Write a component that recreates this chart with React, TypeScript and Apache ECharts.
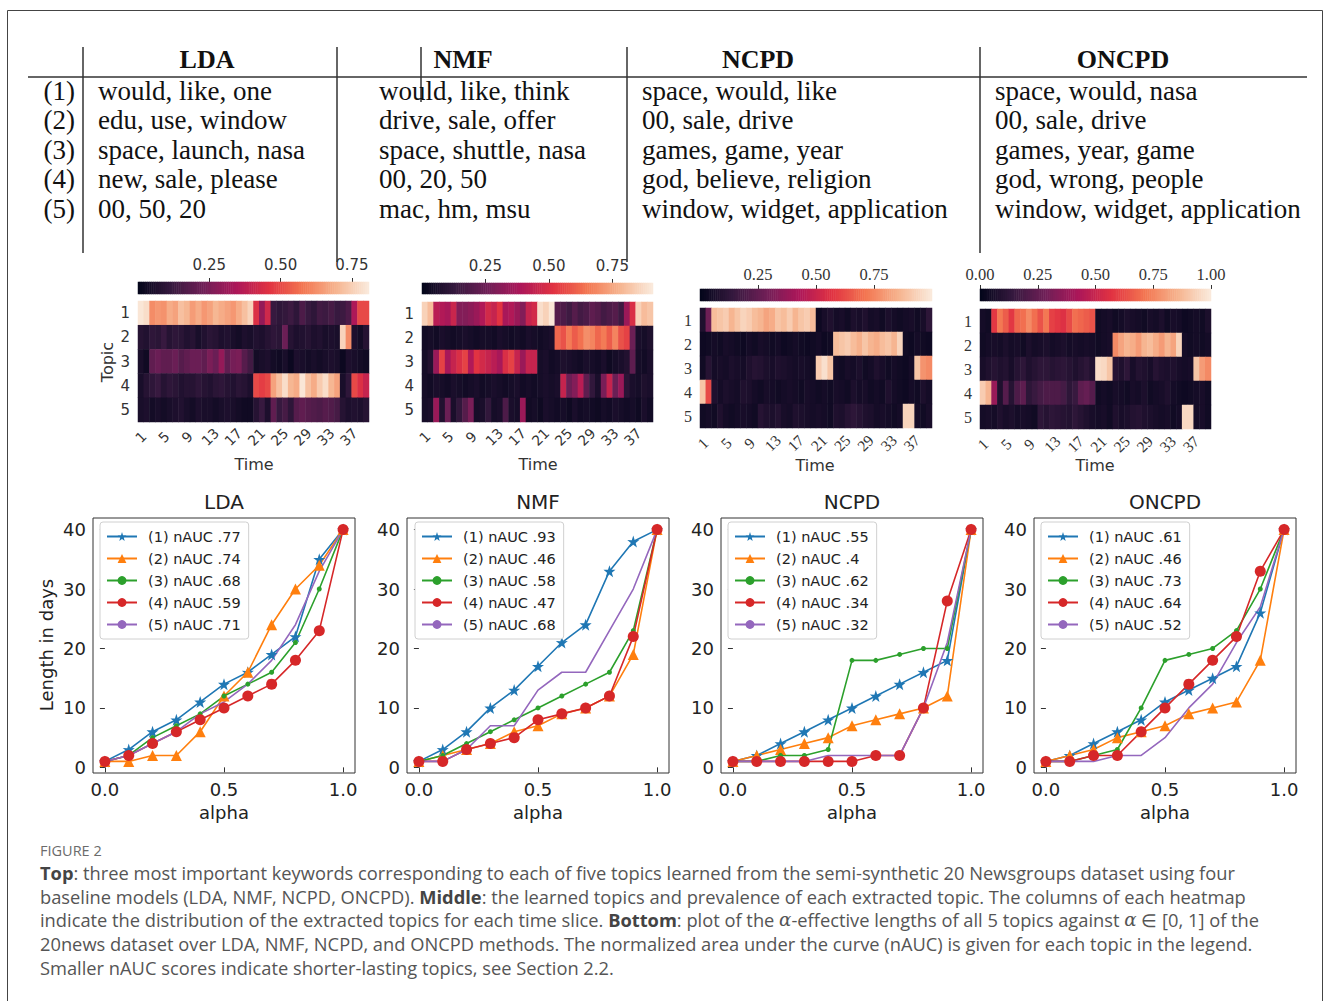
import React, { useEffect, useRef } from "react";
import * as echarts from "echarts";

// ---------------- DATA ----------------
const methods = ["LDA", "NMF", "NCPD", "ONCPD"];
const topicLabels = ["(1)", "(2)", "(3)", "(4)", "(5)"];
const keywordsLDA = ["would, like, one", "edu, use, window", "space, launch, nasa", "new, sale, please", "00, 50, 20"];
const keywordsNMF = ["would, like, think", "drive, sale, offer", "space, shuttle, nasa", "00, 20, 50", "mac, hm, msu"];
const keywordsNCPD = ["space, would, like", "00, sale, drive", "games, game, year", "god, believe, religion", "window, widget, application"];
const keywordsONCPD = ["space, would, nasa", "00, sale, drive", "games, year, game", "god, wrong, people", "window, widget, application"];

const timeSlices = ["1","2","3","4","5","6","7","8","9","10","11","12","13","14","15","16","17","18","19","20",
  "21","22","23","24","25","26","27","28","29","30","31","32","33","34","35","36","37","38","39","40"];
const topicRows = ["1", "2", "3", "4", "5"];

const heatLDA = [
  [0.80,0.78,0.62,0.64,0.63,0.68,0.66,0.72,0.70,0.65,0.68,0.64,0.66,0.70,0.68,0.66,0.64,0.68,0.72,0.76,0.45,0.30,0.42,0.12,0.10,0.11,0.13,0.10,0.16,0.12,0.10,0.14,0.13,0.15,0.12,0.13,0.16,0.35,0.50,0.50],
  [0.08,0.07,0.10,0.09,0.12,0.08,0.10,0.09,0.07,0.08,0.05,0.07,0.09,0.08,0.06,0.07,0.05,0.04,0.06,0.05,0.07,0.06,0.08,0.10,0.09,0.22,0.08,0.06,0.07,0.08,0.06,0.07,0.05,0.06,0.05,0.76,0.62,0.06,0.04,0.08],
  [0.05,0.03,0.20,0.22,0.20,0.20,0.22,0.18,0.20,0.22,0.22,0.20,0.25,0.22,0.30,0.20,0.24,0.25,0.18,0.14,0.04,0.05,0.06,0.04,0.03,0.05,0.02,0.06,0.05,0.04,0.05,0.04,0.05,0.06,0.05,0.02,0.06,0.05,0.04,0.03],
  [0.05,0.08,0.10,0.12,0.08,0.10,0.09,0.07,0.08,0.08,0.10,0.08,0.07,0.09,0.10,0.08,0.07,0.09,0.08,0.06,0.50,0.48,0.50,0.66,0.72,0.78,0.70,0.68,0.80,0.72,0.68,0.74,0.78,0.70,0.66,0.05,0.10,0.50,0.45,0.40],
  [0.05,0.06,0.04,0.05,0.04,0.05,0.06,0.07,0.05,0.04,0.06,0.05,0.05,0.04,0.05,0.06,0.05,0.04,0.03,0.03,0.08,0.12,0.06,0.20,0.12,0.15,0.10,0.18,0.20,0.18,0.17,0.16,0.18,0.17,0.15,0.08,0.06,0.07,0.06,0.08],
];
const heatNMF = [
  [0.85,0.80,0.42,0.40,0.38,0.46,0.30,0.30,0.32,0.35,0.40,0.48,0.45,0.52,0.38,0.40,0.35,0.30,0.45,0.48,0.88,0.85,0.90,0.20,0.18,0.15,0.20,0.16,0.18,0.22,0.20,0.16,0.18,0.20,0.15,0.35,0.50,0.85,0.80,0.82],
  [0.04,0.05,0.04,0.06,0.05,0.04,0.05,0.06,0.05,0.04,0.05,0.05,0.04,0.06,0.05,0.04,0.05,0.04,0.06,0.05,0.04,0.05,0.06,0.62,0.58,0.66,0.60,0.64,0.70,0.68,0.62,0.66,0.60,0.68,0.58,0.55,0.25,0.06,0.05,0.07],
  [0.05,0.08,0.35,0.55,0.38,0.45,0.50,0.55,0.40,0.52,0.48,0.45,0.42,0.38,0.50,0.55,0.45,0.35,0.45,0.45,0.05,0.06,0.04,0.05,0.07,0.06,0.05,0.04,0.06,0.05,0.04,0.06,0.03,0.05,0.06,0.08,0.22,0.05,0.04,0.06],
  [0.05,0.04,0.06,0.05,0.04,0.06,0.05,0.04,0.05,0.06,0.04,0.05,0.06,0.05,0.04,0.05,0.06,0.04,0.05,0.04,0.05,0.06,0.05,0.06,0.45,0.25,0.30,0.42,0.22,0.12,0.06,0.28,0.45,0.25,0.35,0.10,0.06,0.05,0.07,0.06],
  [0.05,0.06,0.35,0.08,0.25,0.06,0.12,0.20,0.28,0.05,0.06,0.12,0.05,0.06,0.18,0.06,0.05,0.35,0.04,0.05,0.03,0.06,0.05,0.04,0.05,0.03,0.06,0.04,0.05,0.04,0.03,0.05,0.04,0.06,0.05,0.04,0.05,0.03,0.06,0.04],
];
const heatNCPD = [
  [0.08,0.28,0.88,0.90,0.92,0.86,0.90,0.94,0.92,0.88,0.86,0.82,0.84,0.90,0.88,0.92,0.86,0.90,0.92,0.88,0.03,0.06,0.08,0.05,0.06,0.04,0.07,0.06,0.08,0.05,0.06,0.04,0.07,0.05,0.04,0.05,0.06,0.04,0.06,0.12],
  [0.03,0.04,0.05,0.04,0.06,0.05,0.04,0.03,0.05,0.04,0.06,0.05,0.04,0.05,0.03,0.04,0.05,0.04,0.03,0.04,0.05,0.03,0.04,0.88,0.90,0.92,0.88,0.85,0.90,0.86,0.84,0.88,0.90,0.86,0.94,0.04,0.03,0.05,0.04,0.03],
  [0.04,0.10,0.05,0.06,0.05,0.07,0.06,0.05,0.08,0.10,0.09,0.07,0.06,0.08,0.07,0.06,0.05,0.06,0.05,0.04,0.92,0.97,0.90,0.05,0.04,0.06,0.05,0.07,0.04,0.05,0.08,0.06,0.04,0.05,0.04,0.03,0.05,0.90,0.78,0.76],
  [0.90,0.62,0.08,0.05,0.07,0.06,0.05,0.08,0.07,0.05,0.04,0.06,0.05,0.04,0.05,0.06,0.05,0.04,0.06,0.05,0.04,0.05,0.04,0.06,0.05,0.04,0.07,0.05,0.06,0.04,0.05,0.04,0.08,0.05,0.04,0.03,0.05,0.04,0.07,0.05],
  [0.04,0.05,0.04,0.08,0.05,0.04,0.05,0.06,0.05,0.04,0.10,0.08,0.07,0.09,0.06,0.05,0.08,0.07,0.06,0.05,0.06,0.05,0.04,0.08,0.07,0.10,0.12,0.10,0.08,0.07,0.05,0.06,0.05,0.04,0.05,0.94,0.94,0.05,0.04,0.06],
];
const heatONCPD = [
  [0.05,0.04,0.58,0.72,0.66,0.58,0.68,0.70,0.76,0.70,0.64,0.72,0.60,0.58,0.56,0.62,0.70,0.68,0.66,0.64,0.04,0.05,0.06,0.04,0.05,0.07,0.06,0.05,0.04,0.06,0.05,0.07,0.04,0.06,0.05,0.03,0.04,0.05,0.04,0.07],
  [0.04,0.05,0.06,0.05,0.07,0.05,0.06,0.04,0.07,0.05,0.06,0.07,0.05,0.06,0.07,0.05,0.06,0.05,0.06,0.05,0.04,0.05,0.06,0.76,0.82,0.86,0.84,0.80,0.86,0.88,0.84,0.80,0.86,0.82,0.94,0.05,0.04,0.05,0.04,0.05],
  [0.06,0.08,0.10,0.08,0.09,0.06,0.10,0.12,0.08,0.10,0.12,0.12,0.10,0.11,0.12,0.10,0.08,0.10,0.12,0.08,0.96,0.95,0.90,0.10,0.08,0.12,0.06,0.09,0.08,0.06,0.10,0.08,0.07,0.08,0.06,0.05,0.06,0.90,0.80,0.76],
  [0.92,0.86,0.38,0.08,0.22,0.10,0.20,0.24,0.12,0.15,0.18,0.20,0.20,0.20,0.18,0.12,0.15,0.24,0.26,0.22,0.04,0.05,0.04,0.06,0.05,0.04,0.06,0.05,0.07,0.04,0.05,0.06,0.08,0.05,0.04,0.03,0.04,0.05,0.06,0.04],
  [0.05,0.06,0.05,0.08,0.06,0.07,0.05,0.06,0.05,0.04,0.12,0.10,0.12,0.11,0.10,0.09,0.12,0.10,0.08,0.06,0.05,0.06,0.04,0.08,0.06,0.07,0.09,0.10,0.08,0.07,0.06,0.05,0.06,0.04,0.05,0.95,0.95,0.05,0.06,0.04],
];
const colorbarMax = [0.81, 0.91, 1.0, 1.0];
const colorbarTicks = [[0.25, 0.5, 0.75], [0.25, 0.5, 0.75], [0.25, 0.5, 0.75], [0, 0.25, 0.5, 0.75, 1.0]];

const alphas = [0, 0.1, 0.2, 0.3, 0.4, 0.5, 0.6, 0.7, 0.8, 0.9, 1.0];
const lengthsLDA = [
  [1, 3, 6, 8, 11, 14, 16, 19, 22, 35, 40],
  [1, 1, 2, 2, 6, 12, 16, 24, 30, 34, 40],
  [1, 2, 5, 7, 9, 12, 14, 16, 21, 30, 40],
  [1, 2, 4, 6, 8, 10, 12, 14, 18, 23, 40],
  [1, 2, 4, 6, 9, 11, 14, 18, 24, 33, 40],
];
const lengthsNMF = [
  [1, 3, 6, 10, 13, 17, 21, 24, 33, 38, 40],
  [1, 2, 3, 4, 6, 7, 9, 10, 12, 19, 40],
  [1, 2, 4, 6, 8, 10, 12, 14, 16, 23, 40],
  [1, 1, 3, 4, 5, 8, 9, 10, 12, 22, 40],
  [1, 1, 3, 7, 7, 13, 16, 16, 23, 30, 40],
];
const lengthsNCPD = [
  [1, 2, 4, 6, 8, 10, 12, 14, 16, 18, 40],
  [1, 2, 3, 4, 5, 7, 8, 9, 10, 12, 40],
  [1, 1, 2, 2, 3, 18, 18, 19, 20, 20, 40],
  [1, 1, 1, 1, 1, 1, 2, 2, 10, 28, 40],
  [1, 1, 1, 1, 2, 2, 2, 2, 10, 21, 40],
];
const lengthsONCPD = [
  [1, 2, 4, 6, 8, 11, 13, 15, 17, 26, 40],
  [1, 2, 3, 5, 6, 7, 9, 10, 11, 18, 40],
  [1, 1, 2, 3, 10, 18, 19, 20, 23, 30, 40],
  [1, 1, 2, 2, 6, 10, 14, 18, 22, 33, 40],
  [1, 1, 1, 2, 2, 5, 10, 14, 21, 27, 40],
];
const aucLDA = [".77", ".74", ".68", ".59", ".71"];
const aucNMF = [".93", ".46", ".58", ".47", ".68"];
const aucNCPD = [".55", ".4", ".62", ".34", ".32"];
const aucONCPD = [".61", ".46", ".73", ".64", ".52"];
const yTicks = [0, 10, 20, 30, 40];
const xTicks = [0, 0.5, 1.0];

const captionLines = [
  "{b|Top}: three most important keywords corresponding to each of five topics learned from the semi-synthetic 20 Newsgroups dataset using four",
  "baseline models (LDA, NMF, NCPD, ONCPD). {b|Middle}: the learned topics and prevalence of each extracted topic. The columns of each heatmap",
  "indicate the distribution of the extracted topics for each time slice. {b|Bottom}: plot of the {i|α}-effective lengths of all 5 topics against {i|α} ∈ [0, 1] of the",
  "20news dataset over LDA, NMF, NCPD, and ONCPD methods. The normalized area under the curve (nAUC) is given for each topic in the legend.",
  "Smaller nAUC scores indicate shorter-lasting topics, see Section 2.2.",
];

// ---------------- STYLE / LAYOUT ----------------
const rocket = ["#03051A", "#35193E", "#701F57", "#AD1759", "#E13342", "#F37651", "#F6B48F", "#FAEBDD"];
const tab10 = ["#1f77b4", "#ff7f0e", "#2ca02c", "#d62728", "#9467bd"];
const starPath = "path://M50,0 L61.8,35.1 L98.1,34.5 L69.1,56.5 L79.4,90.5 L50,70 L20.6,90.5 L30.9,56.5 L1.9,34.5 L38.2,35.1 Z";
const symbols = [starPath, "triangle", "circle", "circle", "none"];
const symbolSizes = [12, 11, 5, 11, 0];

const heatGrids = [
  { left: 138, top: 301, width: 231, height: 121 },
  { left: 422, top: 302, width: 231, height: 120 },
  { left: 700, top: 308, width: 232, height: 120 },
  { left: 980, top: 309, width: 231, height: 120 },
];
const cbarGrids = [
  { left: 138, top: 282, width: 231, height: 12 },
  { left: 422, top: 283, width: 231, height: 11 },
  { left: 700, top: 289, width: 232, height: 12 },
  { left: 980, top: 289, width: 231, height: 12 },
];
const lineLefts = [93, 407, 721, 1034];
const lineTop = 518, lineW = 262, lineH = 255;
const legendLefts = [100, 415, 728, 1041];
const SANS = "DejaVu Sans";
const SERIF = "Liberation Serif";

export default function App() {
  const ref = useRef<HTMLDivElement>(null);
  useEffect(() => {
    document.body.style.margin = "0";
    if (!ref.current) return;
    const chart = echarts.init(ref.current, undefined, { renderer: "svg" });
    const heats = [heatLDA, heatNMF, heatNCPD, heatONCPD];
    const lengths = [lengthsLDA, lengthsNMF, lengthsNCPD, lengthsONCPD];
    const aucs = [aucLDA, aucNMF, aucNCPD, aucONCPD];
    const keywords = [keywordsLDA, keywordsNMF, keywordsNCPD, keywordsONCPD];

    const grid: any[] = [];
    const xAxis: any[] = [];
    const yAxis: any[] = [];
    const series: any[] = [];
    const visualMap: any[] = [];
    const legend: any[] = [];

    // heatmap grids 0..3
    heats.forEach((h, i) => {
      const serif = i >= 2;
      const tickFont = serif ? SERIF : SANS;
      grid.push({ ...heatGrids[i], show: false });
      xAxis.push({
        type: "category", gridIndex: grid.length - 1, data: timeSlices,
        axisLine: { show: false }, axisTick: { show: false }, splitLine: { show: false },
        axisLabel: { interval: 3, rotate: 45, fontSize: serif ? 15.5 : 14, color: "#333", fontFamily: tickFont, margin: 15, align: "center", verticalAlign: "middle" },
      });
      yAxis.push({
        type: "category", gridIndex: grid.length - 1, data: topicRows, inverse: true,
        axisLine: { show: false }, axisTick: { show: false }, splitLine: { show: false },
        axisLabel: { fontSize: serif ? 16 : 15, color: "#333", fontFamily: tickFont, margin: 8 },
      });
    });
    // colorbar grids 4..7
    heats.forEach((h, i) => {
      const serif = i >= 2;
      const tickFont = serif ? SERIF : SANS;
      grid.push({ ...cbarGrids[i], show: false });
      const gi = grid.length - 1;
      const cells: string[] = [];
      for (let k = 0; k < 120; k++) cells.push(String(k));
      xAxis.push({ type: "category", gridIndex: gi, data: cells, show: false });
      yAxis.push({ type: "category", gridIndex: gi, data: ["c"], show: false });
      xAxis.push({
        type: "value", gridIndex: gi, position: "top", min: 0, max: colorbarMax[i],
        axisLine: { show: false }, splitLine: { show: false },
        axisTick: { show: true, customValues: colorbarTicks[i], length: 4, lineStyle: { color: "#333" } },
        axisLabel: { customValues: colorbarTicks[i], formatter: (v: number) => v.toFixed(2), fontSize: serif ? 16.5 : 15, color: "#333", fontFamily: tickFont, margin: serif ? 6 : 10 },
      });
    });
    // line grids 8..11
    lengths.forEach((L, i) => {
      grid.push({ left: lineLefts[i], top: lineTop, width: lineW, height: lineH, show: true, borderColor: "#333", borderWidth: 1, backgroundColor: "transparent" });
      const gi = grid.length - 1;
      xAxis.push({
        type: "value", gridIndex: gi, min: -0.05, max: 1.05,
        axisLine: { show: false }, splitLine: { show: false },
        axisTick: { show: true, customValues: xTicks, length: 5, lineStyle: { color: "#333" } },
        axisLabel: { customValues: xTicks, formatter: (v: number) => v.toFixed(1), fontSize: 18, color: "#222", fontFamily: SANS, margin: 7 },
      });
      yAxis.push({
        type: "value", gridIndex: gi, min: -0.95, max: 41.95,
        axisLine: { show: false }, splitLine: { show: false },
        axisTick: { show: true, customValues: yTicks, length: 5, lineStyle: { color: "#333" } },
        axisLabel: { customValues: yTicks, fontSize: 18, color: "#222", fontFamily: SANS, margin: 7 },
      });
    });

    // xAxis indices: heat i -> i ; cbar cat i -> 4 + 2i ; cbar value i -> 5 + 2i ; line i -> 12 + i
    // yAxis indices: heat i -> i ; cbar i -> 4 + i ; line i -> 8 + i
    heats.forEach((h, i) => {
      const data: any[] = [];
      h.forEach((row, r) => row.forEach((v, c) => data.push([c, r, v])));
      series.push({ type: "heatmap", xAxisIndex: i, yAxisIndex: i, data, itemStyle: { borderWidth: 0 }, emphasis: { disabled: true } });
    });
    heats.forEach((h, i) => {
      const data: any[] = [];
      for (let k = 0; k < 120; k++) data.push([k, 0, ((k + 0.5) / 120) * colorbarMax[i]]);
      series.push({ type: "heatmap", xAxisIndex: 4 + 2 * i, yAxisIndex: 4 + i, data, emphasis: { disabled: true } });
    });
    heats.forEach((h, i) => {
      visualMap.push({ type: "continuous", show: false, min: 0, max: colorbarMax[i], seriesIndex: [i, 4 + i], dimension: 2, inRange: { color: rocket } });
    });
    lengths.forEach((L, i) => {
      const names: string[] = [];
      L.forEach((vals, k) => {
        const name = `(${k + 1}) nAUC ${aucs[i][k]}`;
        names.push(name);
        series.push({
          type: "line", name, xAxisIndex: 12 + i, yAxisIndex: 8 + i,
          data: alphas.map((a, j) => [a, vals[j]]),
          symbol: symbols[k], symbolSize: symbolSizes[k], showSymbol: k !== 4,
          itemStyle: { color: tab10[k] }, lineStyle: { color: tab10[k], width: 1.6 },
          emphasis: { disabled: true },
        });
      });
      legend.push({
        data: names, orient: "vertical", left: legendLefts[i], top: 522,
        itemWidth: 30, itemHeight: 11, itemGap: 7, padding: [7, 8, 7, 6],
        borderColor: "#d0d0d0", borderWidth: 1, borderRadius: 3, backgroundColor: "#fff",
        selectedMode: false,
        textStyle: { fontSize: 14.5, color: "#222", fontFamily: SANS, padding: [0, 0, 0, 6] },
      });
    });

    // graphics
    const g: any[] = [];
    g.push({ type: "rect", shape: { x: 7.5, y: 10.5, width: 1315, height: 1100 }, style: { fill: "none", stroke: "#444", lineWidth: 1 }, silent: true });
    // table rules
    g.push({ type: "line", shape: { x1: 28, y1: 77, x2: 1307, y2: 77 }, style: { stroke: "#333", lineWidth: 1.5 } });
    [[83, 253], [337, 262], [627, 262], [980, 253]].forEach(([x, y2]) =>
      g.push({ type: "line", shape: { x1: x, y1: 47, x2: x, y2 }, style: { stroke: "#333", lineWidth: 1.5 } }));
    g.push({ type: "line", shape: { x1: 421, y1: 47, x2: 421, y2: 102 }, style: { stroke: "#333", lineWidth: 1.5 } });
    const headerX = [207, 463, 758, 1123];
    const colX = [98, 379, 642, 995];
    const rowY = [91, 120, 150, 179, 209];
    methods.forEach((m, i) => {
      g.push({ type: "text", x: headerX[i], y: 59, style: { text: m, font: `bold 26px "${SERIF}"`, fill: "#111", align: "center", verticalAlign: "middle" } });
      keywords[i].forEach((kw, r) => {
        g.push({ type: "text", x: colX[i], y: rowY[r], style: { text: kw, font: `27px "${SERIF}"`, fill: "#111", align: "left", verticalAlign: "middle" } });
      });
    });
    topicLabels.forEach((t, r) => {
      g.push({ type: "text", x: 75, y: rowY[r], style: { text: t, font: `27px "${SERIF}"`, fill: "#111", align: "right", verticalAlign: "middle" } });
    });
    // heatmap labels
    g.push({ type: "text", x: 107, y: 362, rotation: Math.PI / 2, style: { text: "Topic", font: `16px "${SANS}"`, fill: "#333", align: "center", verticalAlign: "middle" } });
    [[254, 464], [538, 464], [815, 465], [1095, 465]].forEach(([x, y]) =>
      g.push({ type: "text", x, y, style: { text: "Time", font: `16px "${SANS}"`, fill: "#333", align: "center", verticalAlign: "middle" } }));
    // line chart labels
    methods.forEach((m, i) => {
      const cx = lineLefts[i] + lineW / 2;
      g.push({ type: "text", x: cx, y: 502, style: { text: m, font: `20px "${SANS}"`, fill: "#222", align: "center", verticalAlign: "middle" } });
      g.push({ type: "text", x: cx, y: 812, style: { text: "alpha", font: `18px "${SANS}"`, fill: "#222", align: "center", verticalAlign: "middle" } });
    });
    g.push({ type: "text", x: 46, y: 645, rotation: Math.PI / 2, style: { text: "Length in days", font: `18px "${SANS}"`, fill: "#222", align: "center", verticalAlign: "middle" } });
    // caption
    g.push({ type: "text", x: 40, y: 850, style: { text: "FIGURE 2", font: `14.5px "Open Sans"`, fill: "#6b6b6b", align: "left", verticalAlign: "middle" } });
    const capY = [872, 896, 919, 943, 967];
    captionLines.forEach((line, k) => {
      g.push({
        type: "text", x: 40, y: capY[k],
        style: {
          text: line, font: `18.3px "Open Sans"`, fill: "#555", align: "left", verticalAlign: "middle",
          rich: {
            b: { fontWeight: "bold", fontSize: 18.3, fontFamily: "Open Sans", fill: "#444" },
            i: { fontStyle: "italic", fontSize: 18.3, fontFamily: "DejaVu Serif", fill: "#555" },
          },
        },
      });
    });

    chart.setOption({
      animation: false,
      backgroundColor: "#fff",
      grid, xAxis, yAxis, series, visualMap, legend,
      graphic: { elements: g },
    });
    return () => chart.dispose();
  }, []);
  return <div ref={ref} style={{ width: 1330, height: 1001, position: "absolute", left: 0, top: 0 }} />;
}
